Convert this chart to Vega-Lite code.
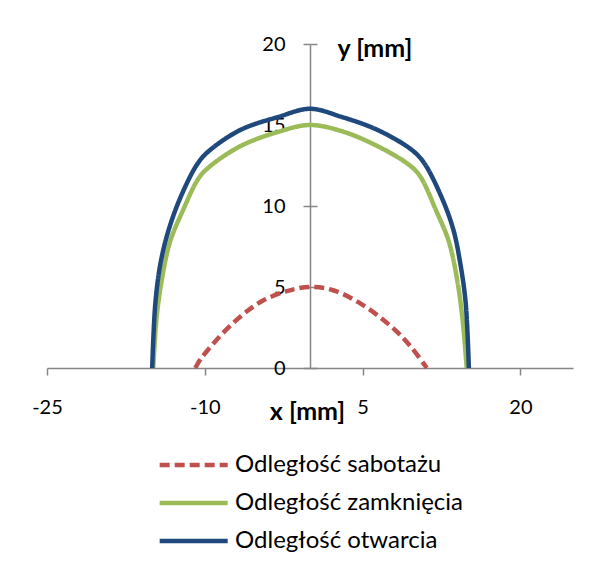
{
  "$schema": "https://vega.github.io/schema/vega-lite/v6.json",
  "width": 526,
  "height": 324,
  "autosize": {"type": "none"},
  "padding": {"left": 47, "top": 44, "right": 22, "bottom": 204},
  "background": "white",
  "config": {
    "view": {"stroke": null},
    "font": "Lato",
    "axis": {"labelFont": "Lato", "titleFont": "Lato", "grid": false}
  },
  "data": {
    "values": [
      {"s": "Odległość sabotażu", "o": 1, "x": -10.9, "y": 0},
      {"s": "Odległość sabotażu", "o": 2, "x": -10.4, "y": 0.55},
      {"s": "Odległość sabotażu", "o": 3, "x": -9.2, "y": 1.5},
      {"s": "Odległość sabotażu", "o": 4, "x": -7.6, "y": 2.6},
      {"s": "Odległość sabotażu", "o": 5, "x": -6.0, "y": 3.5},
      {"s": "Odległość sabotażu", "o": 6, "x": -4.5, "y": 4.15},
      {"s": "Odległość sabotażu", "o": 7, "x": -2.2, "y": 4.75},
      {"s": "Odległość sabotażu", "o": 8, "x": 0, "y": 5},
      {"s": "Odległość sabotażu", "o": 9, "x": 2.2, "y": 4.8},
      {"s": "Odległość sabotażu", "o": 10, "x": 5.0, "y": 3.9},
      {"s": "Odległość sabotażu", "o": 11, "x": 8.0, "y": 2.4},
      {"s": "Odległość sabotażu", "o": 12, "x": 9.6, "y": 1.3},
      {"s": "Odległość sabotażu", "o": 13, "x": 11.1, "y": 0},
      {"s": "Odległość zamknięcia", "o": 1, "x": -14.9, "y": 0},
      {"s": "Odległość zamknięcia", "o": 2, "x": -14.6, "y": 3},
      {"s": "Odległość zamknięcia", "o": 3, "x": -14.1, "y": 5.4},
      {"s": "Odległość zamknięcia", "o": 4, "x": -13.3, "y": 7.8},
      {"s": "Odległość zamknięcia", "o": 5, "x": -12.1, "y": 9.7},
      {"s": "Odległość zamknięcia", "o": 6, "x": -10.6, "y": 11.7},
      {"s": "Odległość zamknięcia", "o": 7, "x": -9.6, "y": 12.4},
      {"s": "Odległość zamknięcia", "o": 8, "x": -6.6, "y": 13.7},
      {"s": "Odległość zamknięcia", "o": 9, "x": -2.9, "y": 14.6},
      {"s": "Odległość zamknięcia", "o": 10, "x": 0, "y": 15},
      {"s": "Odległość zamknięcia", "o": 11, "x": 3.1, "y": 14.6},
      {"s": "Odległość zamknięcia", "o": 12, "x": 6.4, "y": 13.7},
      {"s": "Odległość zamknięcia", "o": 13, "x": 9.5, "y": 12.5},
      {"s": "Odległość zamknięcia", "o": 14, "x": 10.5, "y": 11.8},
      {"s": "Odległość zamknięcia", "o": 15, "x": 12.0, "y": 9.7},
      {"s": "Odległość zamknięcia", "o": 16, "x": 13.2, "y": 7.8},
      {"s": "Odległość zamknięcia", "o": 17, "x": 14.0, "y": 5.4},
      {"s": "Odległość zamknięcia", "o": 18, "x": 14.5, "y": 3},
      {"s": "Odległość zamknięcia", "o": 19, "x": 14.9, "y": 0},
      {"s": "Odległość otwarcia", "o": 1, "x": -15.0, "y": 0},
      {"s": "Odległość otwarcia", "o": 2, "x": -14.7, "y": 4},
      {"s": "Odległość otwarcia", "o": 3, "x": -14.2, "y": 6.5},
      {"s": "Odległość otwarcia", "o": 4, "x": -13.4, "y": 8.6},
      {"s": "Odległość otwarcia", "o": 5, "x": -12.2, "y": 10.7},
      {"s": "Odległość otwarcia", "o": 6, "x": -10.7, "y": 12.6},
      {"s": "Odległość otwarcia", "o": 7, "x": -9.6, "y": 13.4},
      {"s": "Odległość otwarcia", "o": 8, "x": -6.6, "y": 14.7},
      {"s": "Odległość otwarcia", "o": 9, "x": -3.0, "y": 15.5},
      {"s": "Odległość otwarcia", "o": 10, "x": 0, "y": 16},
      {"s": "Odległość otwarcia", "o": 11, "x": 3.0, "y": 15.5},
      {"s": "Odległość otwarcia", "o": 12, "x": 6.4, "y": 14.7},
      {"s": "Odległość otwarcia", "o": 13, "x": 9.6, "y": 13.5},
      {"s": "Odległość otwarcia", "o": 14, "x": 10.8, "y": 12.7},
      {"s": "Odległość otwarcia", "o": 15, "x": 12.4, "y": 10.7},
      {"s": "Odległość otwarcia", "o": 16, "x": 13.6, "y": 8.6},
      {"s": "Odległość otwarcia", "o": 17, "x": 14.3, "y": 6.4},
      {"s": "Odległość otwarcia", "o": 18, "x": 14.8, "y": 4},
      {"s": "Odległość otwarcia", "o": 19, "x": 15.1, "y": 0}
    ]
  },
  "layer": [
    {
      "mark": {"type": "line", "interpolate": "catmull-rom", "strokeWidth": 4.5, "strokeCap": "butt"},
      "encoding": {
        "x": {
          "field": "x", "type": "quantitative",
          "scale": {"domain": [-25, 25], "nice": false, "zero": false},
          "axis": {
            "values": [-25, -10, 5, 20],
            "labelExpr": "'' + datum.value",
            "tickSize": 7, "tickColor": "#868686", "tickWidth": 1.5,
            "domainColor": "#868686", "domainWidth": 1.5,
            "labelFontSize": 20, "labelColor": "#000000", "labelPadding": 22,
            "labelFlush": false,
            "title": "x [mm]", "titleFontSize": 25, "titleFontWeight": "bold", "titleColor": "#000000",
            "titleX": 260, "titleY": 43, "titleBaseline": "middle", "titleAlign": "center"
          }
        },
        "y": {
          "field": "y", "type": "quantitative",
          "scale": {"domain": [0, 20], "nice": false, "zero": true},
          "axis": {
            "values": [0, 5, 10, 15, 20],
            "offset": -263,
            "tickSize": 7, "tickColor": "#868686", "tickWidth": 1.5,
            "domainColor": "#868686", "domainWidth": 1.5,
            "labelFontSize": 20, "labelColor": "#000000", "labelPadding": 18,
            "labelFlush": false,
            "title": "y [mm]", "titleFontSize": 25, "titleFontWeight": "bold", "titleColor": "#000000",
            "titleAngle": 0, "titleX": 27, "titleY": 4, "titleAlign": "left", "titleBaseline": "middle"
          }
        },
        "order": {"field": "o", "type": "quantitative"},
        "color": {
          "field": "s", "type": "nominal",
          "scale": {
            "domain": ["Odległość sabotażu", "Odległość zamknięcia", "Odległość otwarcia"],
            "range": ["#C0504D", "#9BBB59", "#1F497D"]
          },
          "legend": {
            "title": null, "orient": "none", "legendX": 110, "legendY": 407,
            "labelFontSize": 24, "labelFont": "Lato", "labelColor": "#000000", "labelLimit": 400,
            "symbolType": "M-1,0H5", "symbolSize": 514, "symbolStrokeWidth": 4.5,
            "labelOffset": 50, "rowPadding": 12
          }
        },
        "strokeDash": {
          "field": "s", "type": "nominal",
          "scale": {
            "domain": ["Odległość sabotażu", "Odległość zamknięcia", "Odległość otwarcia"],
            "range": [[10, 5], [1, 0], [1, 0]]
          },
          "legend": {
            "title": null, "orient": "none", "legendX": 110, "legendY": 407,
            "labelFontSize": 24, "labelFont": "Lato", "labelColor": "#000000", "labelLimit": 400,
            "symbolType": "M-1,0H5", "symbolSize": 514, "symbolStrokeWidth": 4.5,
            "labelOffset": 50, "rowPadding": 12
          }
        }
      }
    },
    {
      "mark": {"type": "point", "opacity": 0},
      "encoding": {
        "x": {"field": "x", "type": "quantitative"},
        "y": {
          "field": "y", "type": "quantitative",
          "axis": {
            "orient": "right", "offset": -263, "values": [0, 5, 10, 15, 20],
            "labels": false, "domain": false, "title": null,
            "tickSize": 7, "tickColor": "#868686", "tickWidth": 1.5
          }
        }
      }
    }
  ],
  "resolve": {"axis": {"y": "independent"}}
}
